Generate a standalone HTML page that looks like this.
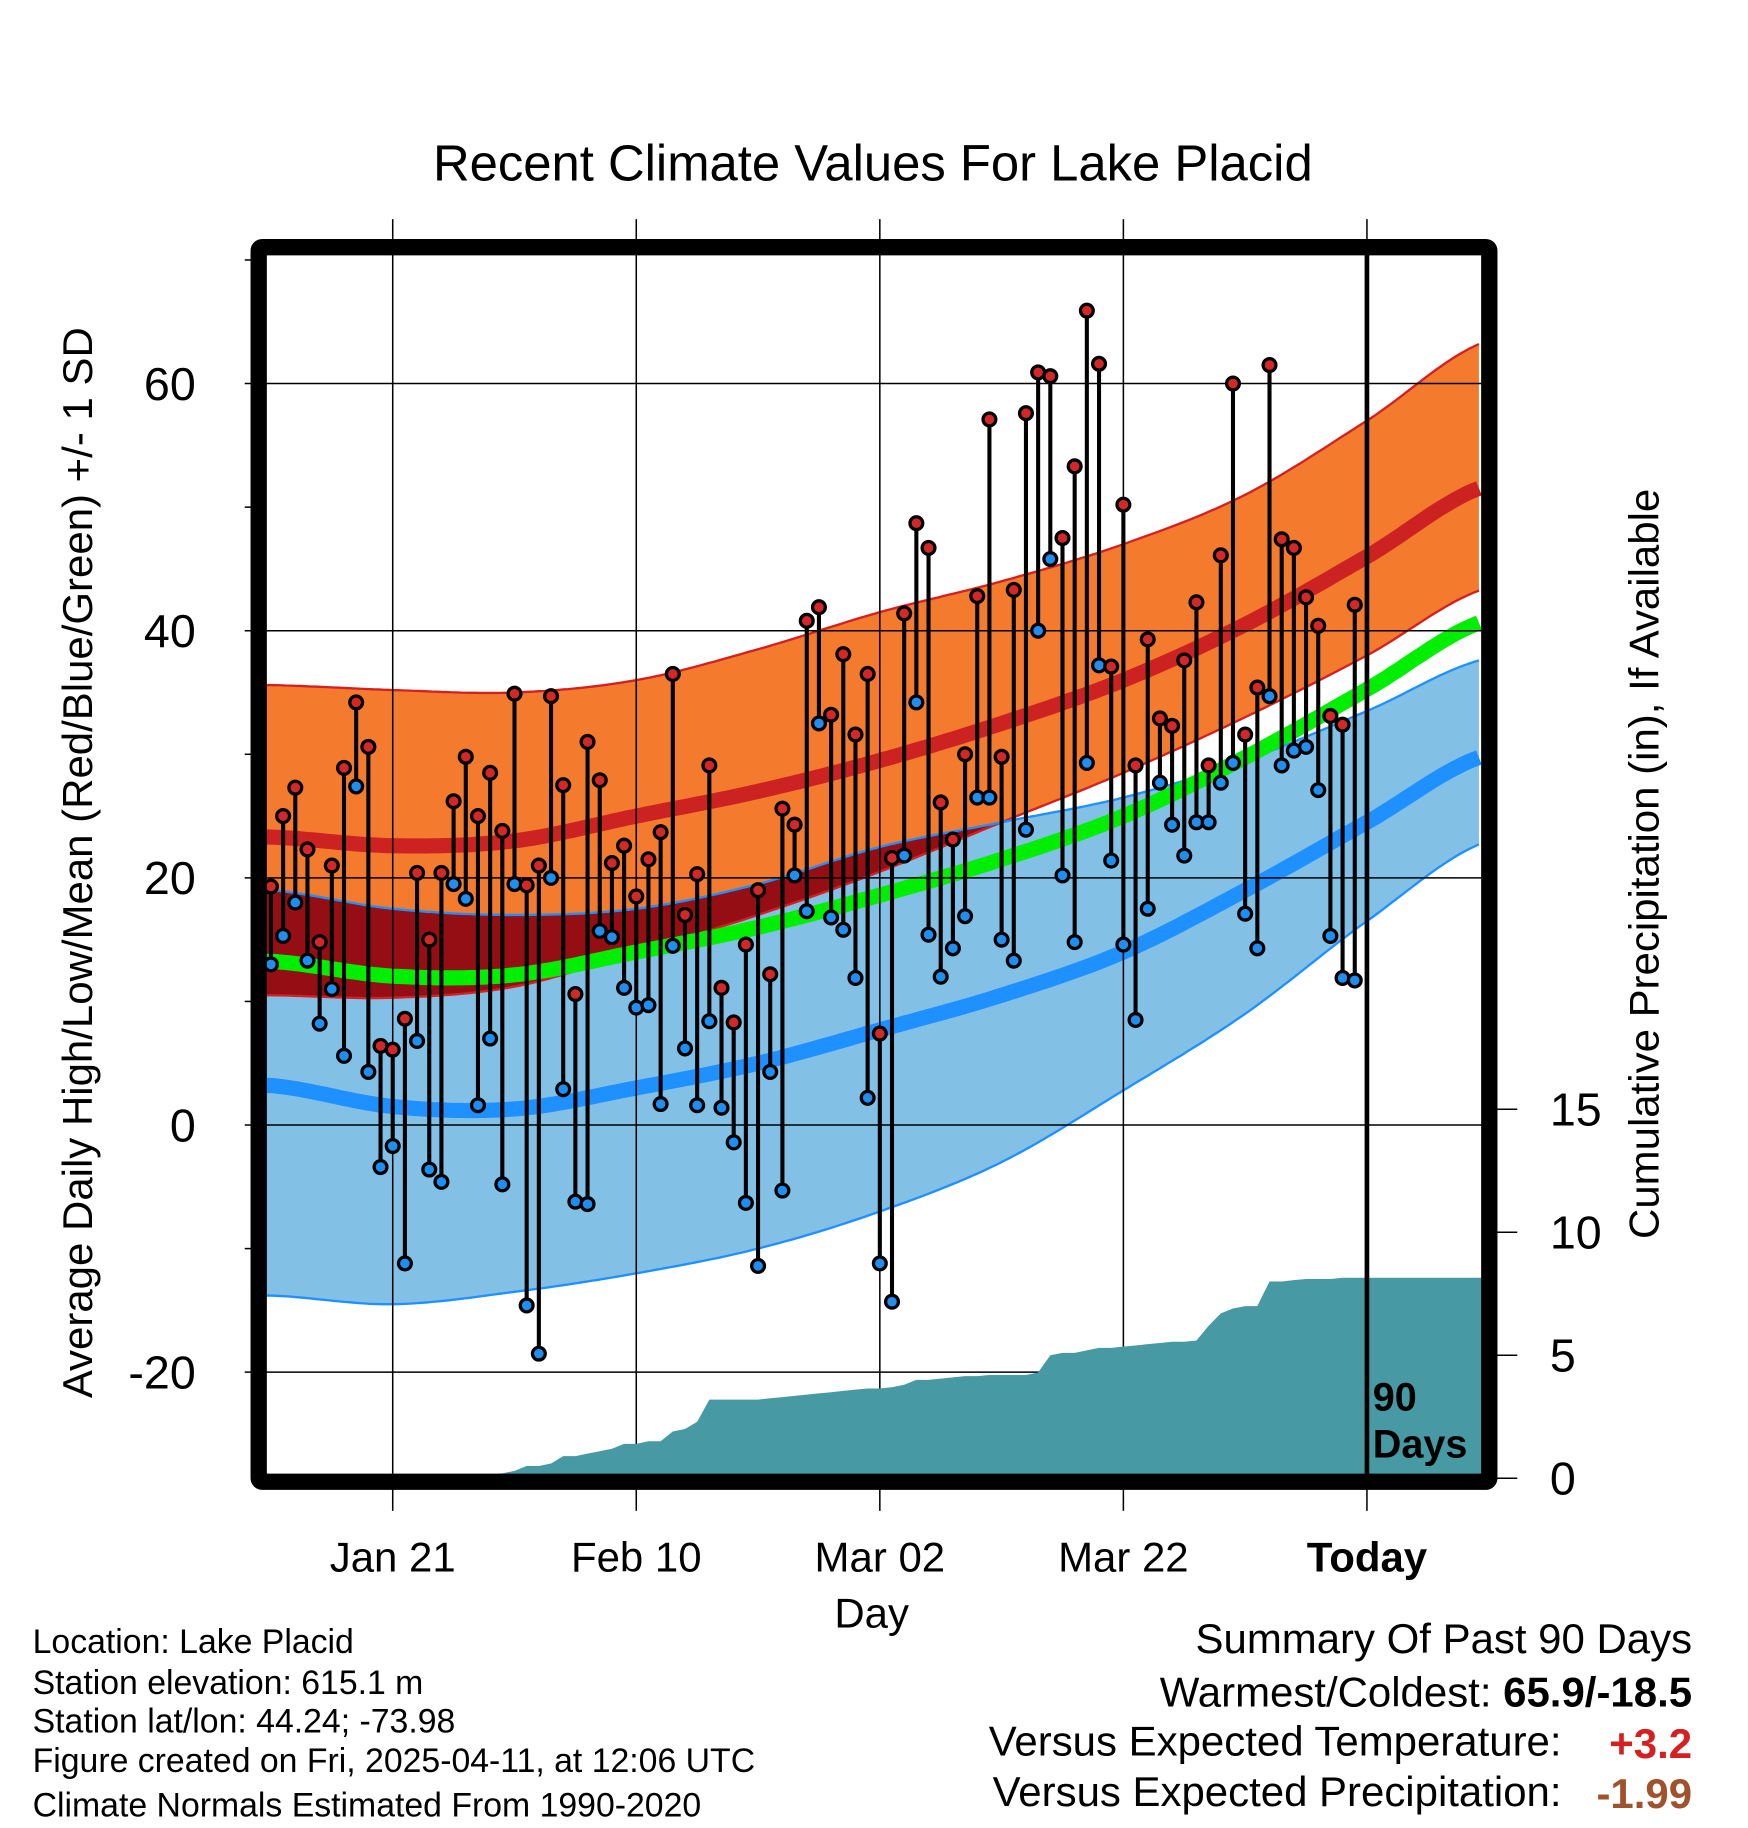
<!DOCTYPE html>
<html><head><meta charset="utf-8"><style>
html,body{margin:0;padding:0;background:#fff;}
svg{display:block;font-family:"Liberation Sans",sans-serif;}
</style></head><body>
<svg id="chart" width="1748" height="1828" viewBox="0 0 1500 1568" preserveAspectRatio="none" xmlns="http://www.w3.org/2000/svg">
<g id="bands"></g>
<g id="grid"></g>
<g id="precip"></g>
<g id="obs"></g>
<g id="frame"></g>
<text x="749" y="155" font-size="43.6" text-anchor="middle">Recent Climate Values For Lake Placid</text>
<text transform="translate(79,740) rotate(-90)" font-size="36" text-anchor="middle">Average Daily High/Low/Mean (Red/Blue/Green) +/- 1 SD</text>
<text transform="translate(1423,741) rotate(-90)" font-size="36" text-anchor="middle">Cumulative Precipitation (in), If Available</text>
<text x="748" y="1396" font-size="36" text-anchor="middle">Day</text>
<g font-size="29">
<text x="28" y="1418">Location: Lake Placid</text>
<text x="28" y="1453">Station elevation: 615.1 m</text>
<text x="28" y="1486">Station lat/lon: 44.24; -73.98</text>
<text x="28" y="1520">Figure created on Fri, 2025-04-11, at 12:06 UTC</text>
<text x="28" y="1558">Climate Normals Estimated From 1990-2020</text>
</g>
<g font-size="36">
<text x="1452" y="1418" text-anchor="end">Summary Of Past 90 Days</text>
<text x="1452" y="1464" text-anchor="end">Warmest/Coldest: <tspan font-weight="bold">65.9/-18.5</tspan></text>
<text x="1340" y="1506" text-anchor="end">Versus Expected Temperature:</text>
<text x="1452" y="1508" text-anchor="end" fill="#d42020" font-weight="bold">+3.2</text>
<text x="1340" y="1549" text-anchor="end">Versus Expected Precipitation:</text>
<text x="1452" y="1551" text-anchor="end" fill="#a0522d" font-weight="bold">-1.99</text>
</g>
</svg>
<script>
// observed data (Jan 11 .. Apr 10)
const highs = [19.3,25,27.3,22.3,14.8,21,28.9,34.2,30.6,6.4,6.1,8.6,20.4,15,20.4,26.2,29.8,25,28.5,23.8,34.9,19.4,21,34.7,27.5,10.6,31,27.9,21.2,22.6,18.5,21.5,23.7,36.5,17,20.3,29.1,11.1,8.3,14.6,19,12.2,25.6,24.3,40.8,41.9,33.2,38.1,31.6,36.5,7.4,21.6,41.4,48.7,46.7,26.1,23.1,30,42.8,57.1,29.8,43.3,57.6,60.9,60.6,47.5,53.3,65.9,61.6,37.1,50.2,29.1,39.3,32.9,32.3,37.6,42.3,29.1,46.1,60,31.6,35.4,61.5,47.4,46.7,42.7,40.4,33.1,32.4,42.1];
const lows = [13,15.3,18,13.3,8.2,11,5.6,27.4,4.3,-3.4,-1.7,-11.2,6.8,-3.6,-4.6,19.5,18.3,1.6,7,-4.8,19.5,-14.6,-18.5,20,2.9,-6.2,-6.4,15.7,15.2,11.1,9.5,9.7,1.7,14.5,6.2,1.6,8.4,1.4,-1.4,-6.3,-11.4,4.3,-5.3,20.2,17.3,32.5,16.8,15.8,11.9,2.2,-11.2,-14.3,21.8,34.2,15.4,12,14.3,16.9,26.5,26.5,15,13.3,23.9,40,45.8,20.2,14.8,29.3,37.2,21.4,14.6,8.5,17.5,27.7,24.3,21.8,24.5,24.5,27.7,29.3,17.1,14.3,34.7,29.1,30.3,30.6,27.1,15.3,11.9,11.7];
const precip = [0,0,0,0,0,0,0,0,0,0,0,0,0,0,0,0,0,0.05,0.15,0.2,0.3,0.5,0.5,0.6,0.9,0.9,1.0,1.1,1.2,1.4,1.4,1.5,1.5,1.9,2.0,2.3,3.2,3.2,3.2,3.2,3.2,3.25,3.3,3.35,3.4,3.45,3.5,3.55,3.6,3.65,3.65,3.7,3.8,4.0,4.0,4.05,4.1,4.15,4.15,4.2,4.2,4.2,4.2,4.3,5.0,5.1,5.1,5.2,5.3,5.3,5.35,5.4,5.45,5.5,5.55,5.55,5.6,6.2,6.7,6.9,7.0,7.0,8.0,8.0,8.05,8.1,8.1,8.1,8.15,8.15];
// normals sampled every 10 days from Jan 11
const normDays = [0,10,20,30,40,50,60,70,80,90,100];
const normHigh = [23.3,22.6,23.0,25.0,27.0,29.5,32.5,36,40.5,46,51.8];
const highUpper = [35.6,35.2,35.0,36.0,38.5,41.5,44.0,47.0,51.0,57.0,63.5];
const highLower = [10.5,10.3,11.2,14.0,17.0,20.5,24.5,28.5,33,38,43.5];
const normLow = [3.2,1.5,1.3,3.0,5.0,7.7,10.5,14.0,19.0,24.5,30.0];
const lowUpper = [19.0,17.5,17.0,17.5,19.5,22.5,24.5,26.5,29.5,33.5,37.8];
const lowLower = [-13.8,-14.5,-13.5,-12,-10,-7,-3,2.8,9,16.5,23];
const yTicks = [-20,0,20,40,60];
const pTicks = [0,5,10,15];
const xTickDays = [10,30,50,70,90];
const xTickLabels = ["Jan 21","Feb 10","Mar 02","Mar 22","Today"];

const L=225,R=1275,T=215,B=1268;
const X=d=>232.5+d*10.45;
const Y=v=>965-v*10.6;
const P=v=>1268-v*21.1;
const NS="http://www.w3.org/2000/svg";
function mk(tag,attrs,parent){const el=document.createElementNS(NS,tag);for(const k in attrs)el.setAttribute(k,attrs[k]);parent.appendChild(el);return el;}
function interp(arr,d){
  let i=Math.min(Math.floor(d/10),arr.length-2);const t=(d-normDays[i])/10;
  const p0=arr[Math.max(i-1,0)],p1=arr[i],p2=arr[i+1],p3=arr[Math.min(i+2,arr.length-1)];
  return 0.5*((2*p1)+(-p0+p2)*t+(2*p0-5*p1+4*p2-p3)*t*t+(-p0+3*p1-3*p2+p3)*t*t*t);
}
const sampleDays=[];for(let d=-0.8;d<=99.6;d+=0.4)sampleDays.push(d);
function line(arr){return sampleDays.map(d=>X(d).toFixed(1)+","+Y(interp(arr,Math.max(d,0))).toFixed(1));}
function band(a,b){return line(a).concat(line(b).reverse()).join(" ");}
const gB=document.getElementById('bands');
const clipEl=mk('clipPath',{id:'pc'},gB);mk('rect',{x:L,y:T,width:R-L,height:B-T},clipEl);
const bg=mk('g',{'clip-path':'url(#pc)'},gB);
let e;
e=mk('polygon',{points:band(lowUpper,lowLower),fill:'#82c0e6'},bg);


e=mk('polygon',{points:band(highUpper,highLower),fill:'#f47a2e'},bg);


const ovTop=[],ovBot=[];
sampleDays.forEach(d=>{const dd=Math.max(d,0);const hl=interp(highLower,dd),lu=interp(lowUpper,dd);if(lu>hl){ovTop.push(X(d).toFixed(1)+","+Y(lu).toFixed(1));ovBot.push(X(d).toFixed(1)+","+Y(hl).toFixed(1));}});
e=mk('polygon',{points:ovTop.concat(ovBot.reverse()).join(" "),fill:'#940e14'},bg);


e=mk('polyline',{points:line(highUpper).join(" "),fill:'none',stroke:'#d42020','stroke-width':2},bg);


e=mk('polyline',{points:line(highLower).join(" "),fill:'none',stroke:'#d42020','stroke-width':2},bg);


e=mk('polyline',{points:line(lowUpper).join(" "),fill:'none',stroke:'#1e90ff','stroke-width':2},bg);


e=mk('polyline',{points:line(lowLower).join(" "),fill:'none',stroke:'#1e90ff','stroke-width':2},bg);


const normMean=normHigh.map((h,i)=>(h+normLow[i])/2);
e=mk('polyline',{points:line(normMean).join(" "),fill:'none',stroke:'#00ee00','stroke-width':13},bg);


e=mk('polyline',{points:line(normHigh).join(" "),fill:'none',stroke:'#cc2222','stroke-width':13},bg);


e=mk('polyline',{points:line(normLow).join(" "),fill:'none',stroke:'#1e90ff','stroke-width':13},bg);



// grid
const gG=document.getElementById('grid');
yTicks.forEach(v=>{const l=mk('line',{x1:210,x2:R,y1:Y(v),y2:Y(v),stroke:'#000','stroke-width':1.3},gG);


const t=mk('text',{x:168,y:Y(v)+14,'font-size':40,'text-anchor':'end'},gG);t.textContent=v;

});
[-10,10,30,50,70].forEach(v=>{mk('line',{x1:210,x2:218,y1:Y(v),y2:Y(v),stroke:'#000','stroke-width':1.3},gG);});
xTickDays.forEach((d,i)=>{const l=mk('line',{x1:X(d),x2:X(d),y1:188,y2:1296,stroke:'#000','stroke-width':1.3},gG);


const t=mk('text',{x:X(d),y:1348,'font-size':36,'text-anchor':'middle','font-weight':i==4?'bold':'normal'},gG);t.textContent=xTickLabels[i];

});

// precip
const gP=document.getElementById('precip');
const pts=[L+","+B];
precip.forEach((v,i)=>pts.push(X(i).toFixed(1)+","+P(v).toFixed(1)));
pts.push(R+","+P(precip[precip.length-1]).toFixed(1));pts.push(R+","+B);
e=mk('polygon',{points:pts.join(" "),fill:'#4799a3'},gP);


pTicks.forEach(v=>{const l=mk('line',{x1:1283,x2:1302,y1:P(v),y2:P(v),stroke:'#000','stroke-width':1.3},gP);


const t=mk('text',{x:1330,y:P(v)+14,'font-size':40},gP);t.textContent=v;

});

// observations
const gO=document.getElementById('obs');
highs.forEach((h,i)=>{const l=mk('line',{x1:X(i),x2:X(i),y1:Y(h),y2:Y(lows[i]),stroke:'#000','stroke-width':3.5},gO);

});
highs.forEach((h,i)=>{
const c1=mk('circle',{cx:X(i),cy:Y(h),r:5.5,fill:'#d42828',stroke:'#000','stroke-width':2.8},gO);


const c2=mk('circle',{cx:X(i),cy:Y(lows[i]),r:5.5,fill:'#1e8ff0',stroke:'#000','stroke-width':2.8},gO);

});

// frame + today
const gF=document.getElementById('frame');
e=mk('line',{x1:X(90),x2:X(90),y1:T,y2:B,stroke:'#000','stroke-width':4},gF);


e=mk('rect',{x:222,y:212,width:1056,height:1059,fill:'none',stroke:'#000','stroke-width':14,rx:3},gF);


let tx=mk('text',{x:1178,y:1210,'font-size':34,'font-weight':'bold'},gF);tx.textContent="90";


tx=mk('text',{x:1178,y:1250,'font-size':34,'font-weight':'bold'},gF);tx.textContent="Days";


</script>
</body></html>
